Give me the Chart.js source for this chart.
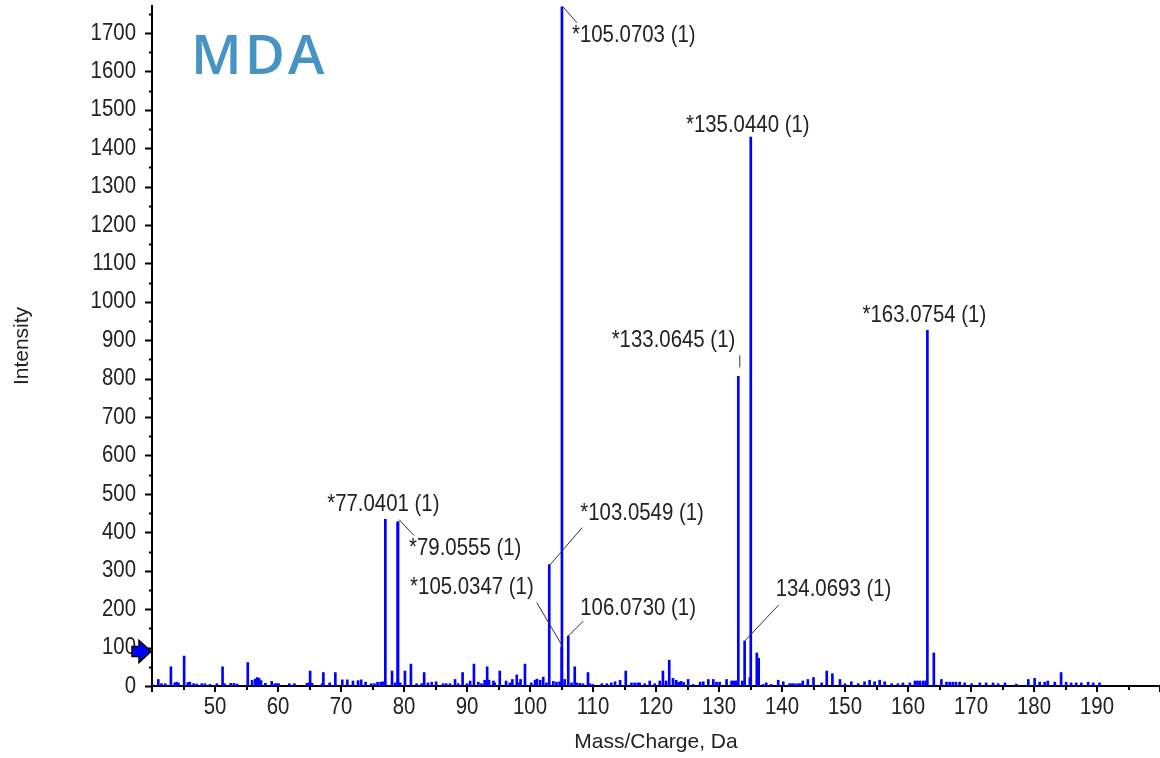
<!DOCTYPE html>
<html>
<head>
<meta charset="utf-8">
<title>MDA product ion spectrum</title>
<script src="https://cdn.jsdelivr.net/npm/chart.js@4.4.1/dist/chart.umd.min.js"></script>
<style>
    html, body { margin: 0; padding: 0; background: #fff; }
    #wrap { width: 1160px; height: 758px; position: relative; }
</style>
</head>
<body>
<div id="wrap"><canvas id="spectrum"></canvas></div>
<script>
// Annotated fragment peaks; the star marks assigned fragments
const labelMz = [77.0401, 79.0555, 103.0549, 105.0347, 105.0703, 106.0730, 133.0645, 134.0693, 135.0440, 163.0754];
const labelIntensity = [434, 428, 316, 100, 1768, 130, 806, 117, 1429, 926];
const labelStarred = [true, true, true, true, true, false, true, false, true, true];

// All other sticks of the spectrum
const peakMz = [
    40.0, 41.0, 41.5, 42.1, 43.0, 43.6, 43.9, 44.2, 45.1, 45.7, 46.0, 46.6, 47.1, 47.9, 48.4, 49.2,
    50.3, 51.2, 51.5, 52.5, 53.0, 53.5, 55.2, 55.9, 56.4, 56.7, 57.0, 57.3, 58.0, 59.0, 59.5, 59.8,
    60.1, 61.8, 62.6, 64.6, 64.9, 65.1, 65.4, 67.0, 67.2, 68.2, 69.1, 70.2, 71.0, 71.9, 72.7, 73.2,
    73.9, 74.8, 75.3, 75.8, 76.3, 76.7, 78.1, 78.6, 78.99, 79.4, 80.15, 81.1, 82.0, 82.8, 83.2, 83.8,
    84.4, 85.1, 86.2, 86.7, 87.3, 88.1, 88.6, 89.3, 90.0, 90.5, 91.1, 91.8, 92.3, 92.8, 93.2, 93.5,
    94.2, 94.4, 95.2, 96.2, 96.8, 97.2, 97.9, 98.1, 98.5, 99.2, 100.2, 100.8, 101.1, 101.6, 102.1, 102.6,
    103.7, 104.2, 104.7, 105.5, 106.6, 107.1, 107.4, 107.9, 108.4, 109.2, 109.5, 110.0, 111.4, 112.2, 112.9, 113.5,
    114.3, 115.2, 116.1, 116.6, 117.1, 117.4, 118.2, 119.0, 119.8, 120.6, 121.1, 121.6, 122.1, 122.7, 123.2, 123.6,
    124.0, 124.4, 125.1, 125.9, 127.0, 127.5, 128.3, 129.1, 129.6, 130.1, 131.2, 132.0, 132.3, 132.6, 132.9, 133.7,
    134.9, 136.0, 136.3, 137.0, 137.5, 138.3, 139.4, 140.2, 141.2, 141.6, 142.0, 142.5, 142.9, 143.3, 144.1, 145.0,
    146.3, 147.1, 148.0, 149.2, 150.0, 151.0, 152.1, 153.1, 153.9, 154.7, 155.5, 156.3, 157.4, 158.4, 159.2, 160.3,
    161.1, 161.5, 161.9, 162.4, 162.8, 164.1, 165.3, 166.1, 166.6, 167.1, 167.6, 168.2, 169.0, 170.1, 171.4, 172.4,
    173.5, 174.3, 175.4, 177.2, 179.1, 180.1, 180.9, 181.7, 182.2, 183.3, 184.3, 185.1, 185.9, 186.7, 187.5, 188.6,
    189.4, 190.4
];
const peakIntensity = [
    7, 17, 6, 6, 50, 8, 10, 8, 78, 9, 10, 6, 5, 6, 6, 4,
    6, 50, 6, 7, 7, 5, 61, 15, 18, 22, 20, 14, 7, 12, 6, 6,
    6, 6, 6, 7, 8, 39, 7, 6, 35, 8, 35, 16, 16, 13, 14, 16,
    10, 6, 6, 10, 10, 11, 39, 8, 426, 8, 39, 57, 6, 6, 35, 8,
    10, 11, 6, 6, 6, 17, 6, 35, 6, 13, 57, 10, 6, 15, 50, 15,
    13, 8, 39, 13, 8, 17, 29, 8, 17, 57, 8, 15, 18, 15, 23, 8,
    12, 10, 11, 17, 8, 50, 8, 7, 6, 35, 6, 4, 6, 6, 8, 11,
    15, 39, 8, 8, 8, 8, 6, 13, 6, 13, 39, 13, 67, 20, 15, 10,
    12, 9, 17, 4, 10, 11, 17, 17, 10, 10, 17, 13, 13, 13, 13, 13,
    22, 86, 72, 4, 8, 4, 15, 11, 6, 6, 6, 6, 6, 13, 17, 22,
    8, 39, 32, 17, 6, 11, 6, 11, 15, 11, 15, 11, 6, 6, 8, 8,
    13, 13, 13, 13, 13, 86, 17, 10, 10, 10, 10, 10, 8, 6, 8, 8,
    8, 6, 8, 5, 17, 20, 10, 10, 13, 10, 35, 10, 8, 8, 8, 10,
    8, 8
];

const xTickLabels = [50, 60, 70, 80, 90, 100, 110, 120, 130, 140, 150, 160, 170, 180, 190];
const yTickLabels = [0, 100, 200, 300, 400, 500, 600, 700, 800, 900, 1000, 1100, 1200, 1300, 1400, 1500, 1600, 1700];
const thresholdLevel = 90;

// label anchor and leader segment, offsets in px from each annotated peak top
const calloutLayout = [
    { dx: -2, dy: -15, align: 'center' },
    { dx: 11, dy: 27, align: 'left', leader: [1, -2, 16, 14] },
    { dx: 31, dy: -51, align: 'left', leader: [1, 0, 33, -37] },
    { dx: -28, dy: -60, align: 'right', leader: [1, -1, -25, -45] },
    { dx: 10, dy: 29, align: 'left', leader: [1, 0, 15, 16] },
    { dx: 12, dy: -28, align: 'left', leader: [0, 0, 15, -15] },
    { dx: -3, dy: -36, align: 'right', leader: [1.5, -21, 1.5, -9] },
    { dx: 31, dy: -52, align: 'left', leader: [0, 0, 34, -36] },
    { dx: -3, dy: -12, align: 'center' },
    { dx: -3, dy: -15, align: 'center' }
];

const FONT_FAMILY = "'Liberation Sans', Arial, sans-serif";
const TEXT_FONT = "24px 'Liberation Sans', Arial, sans-serif";
const NARROW = 0.85;   // horizontal squeeze for the instrument's condensed lettering
Chart.defaults.font.family = FONT_FAMILY;
Chart.defaults.color = '#222';

const sticks = peakMz.map((m, i) => ({ x: m, y: peakIntensity[i] }))
    .concat(labelMz.map((m, i) => ({ x: m, y: labelIntensity[i] })))
    .sort((a, b) => a.x - b.x);

function minorValues(ticks, max) {
    const out = [];
    for (let i = 0; i < ticks.length; i++) {
        const next = i + 1 < ticks.length ? ticks[i + 1].value : null;
        const step = next !== null ? next - ticks[i].value : ticks[i].value - ticks[i - 1].value;
        const mid = ticks[i].value + step / 2;
        if (mid <= max) out.push(mid);
    }
    return out;
}

function narrowText(ctx, text, x, y, align) {
    ctx.save();
    ctx.translate(x, y);
    ctx.scale(NARROW, 1);
    ctx.textAlign = align;
    ctx.fillText(text, 0, 0);
    ctx.restore();
}

const spectrumDecor = {
    id: 'spectrumDecor',
    afterDatasetsDraw(chart) {
        const { ctx, scales: { x, y } } = chart;
        ctx.save();
        ctx.font = TEXT_FONT;
        ctx.textBaseline = 'middle';
        ctx.fillStyle = '#222';
        ctx.strokeStyle = '#333';
        ctx.lineWidth = 1;
        labelMz.forEach((mz, i) => {
            const px = x.getPixelForValue(mz);
            const py = y.getPixelForValue(labelIntensity[i]);
            const lay = calloutLayout[i];
            if (lay.leader) {
                const [x1, y1, x2, y2] = lay.leader;
                ctx.beginPath();
                ctx.moveTo(px + x1, py + y1);
                ctx.lineTo(px + x2, py + y2);
                ctx.stroke();
            }
            const text = (labelStarred[i] ? '*' : '') + mz.toFixed(4) + ' (1)';
            narrowText(ctx, text, px + lay.dx, py + lay.dy, lay.align);
        });

        // compound name
        ctx.font = "600 55px 'Open Sans', sans-serif";
        ctx.letterSpacing = '3px';
        ctx.fillStyle = '#4794c4';
        ctx.textAlign = 'left';
        ctx.textBaseline = 'alphabetic';
        ctx.fillText('MDA', 191, 74);
        ctx.restore();
    },
    afterDraw(chart) {
        const { ctx, scales: { x, y }, chartArea } = chart;
        ctx.save();

        // tick labels
        ctx.font = TEXT_FONT;
        ctx.fillStyle = '#222';
        ctx.textBaseline = 'middle';
        y.ticks.filter(t => yTickLabels.includes(t.value)).forEach(t => {
            narrowText(ctx, String(t.value), chartArea.left - 16, y.getPixelForValue(t.value), 'right');
        });
        x.ticks.filter(t => xTickLabels.includes(t.value)).forEach(t => {
            narrowText(ctx, String(t.value), x.getPixelForValue(t.value), chartArea.bottom + 21, 'center');
        });

        // tick marks: long on whole steps, short in between
        ctx.strokeStyle = '#000';
        ctx.lineWidth = 2;
        ctx.beginPath();
        y.ticks.forEach(t => {
            const py = Math.round(y.getPixelForValue(t.value)) + 0.5;
            ctx.moveTo(chartArea.left - 7, py);
            ctx.lineTo(chartArea.left, py);
        });
        minorValues(y.ticks, y.max).forEach(v => {
            const py = Math.round(y.getPixelForValue(v)) + 0.5;
            ctx.moveTo(chartArea.left - 3, py);
            ctx.lineTo(chartArea.left, py);
        });
        x.ticks.forEach(t => {
            const px = Math.round(x.getPixelForValue(t.value));
            ctx.moveTo(px, chartArea.bottom);
            ctx.lineTo(px, chartArea.bottom + 6);
        });
        minorValues(x.ticks, x.max).forEach(v => {
            const px = Math.round(x.getPixelForValue(v));
            ctx.moveTo(px, chartArea.bottom);
            ctx.lineTo(px, chartArea.bottom + 4);
        });
        ctx.stroke();

        // threshold arrow on the intensity axis
        const ay = y.getPixelForValue(thresholdLevel);
        const tip = chartArea.left - 1;
        ctx.beginPath();
        ctx.moveTo(tip, ay);
        ctx.lineTo(tip - 12, ay - 11);
        ctx.lineTo(tip - 12, ay - 5);
        ctx.lineTo(tip - 19, ay - 5);
        ctx.lineTo(tip - 19, ay + 5);
        ctx.lineTo(tip - 12, ay + 5);
        ctx.lineTo(tip - 12, ay + 11);
        ctx.closePath();
        ctx.fillStyle = '#0000ff';
        ctx.fill();
        ctx.lineWidth = 1.5;
        ctx.strokeStyle = '#000';
        ctx.stroke();
        ctx.restore();
    }
};

new Chart(document.getElementById('spectrum'), {
    type: 'bar',
    data: {
        datasets: [{
            label: 'Intensity',
            data: sticks,
            backgroundColor: '#0000ff',
            borderWidth: 0,
            barThickness: 2,
            grouped: false
        }]
    },
    options: {
        responsive: true,
        maintainAspectRatio: false,
        animation: false,
        layout: {
            padding: { top: 6, right: 0, bottom: 0, left: 0 }
        },
        plugins: {
            legend: { display: false },
            tooltip: { enabled: false }
        },
        scales: {
            x: {
                type: 'linear',
                min: 40,
                max: 200,
                offset: false,
                grid: { display: false, drawTicks: false },
                border: { display: true, color: '#000', width: 2 },
                ticks: { stepSize: 10, display: false },
                title: {
                    display: true,
                    text: 'Mass/Charge, Da',
                    font: { size: 21 },
                    padding: { top: 0, bottom: 3 }
                },
                afterFit: scale => {
                    scale.height = 72;
                    scale.paddingLeft = 0;
                    scale.paddingRight = 0;
                }
            },
            y: {
                min: 0,
                max: 1770,
                grid: { display: false, drawTicks: false },
                border: { display: true, color: '#000', width: 2 },
                ticks: { stepSize: 100, includeBounds: false, display: false },
                title: {
                    display: true,
                    text: 'Intensity',
                    font: { size: 21 },
                    padding: { top: 10, bottom: 0 }
                },
                afterFit: scale => {
                    scale.width = 152;
                    scale.paddingTop = 0;
                    scale.paddingBottom = 0;
                }
            }
        }
    },
    plugins: [spectrumDecor]
});
</script>
</body>
</html>
